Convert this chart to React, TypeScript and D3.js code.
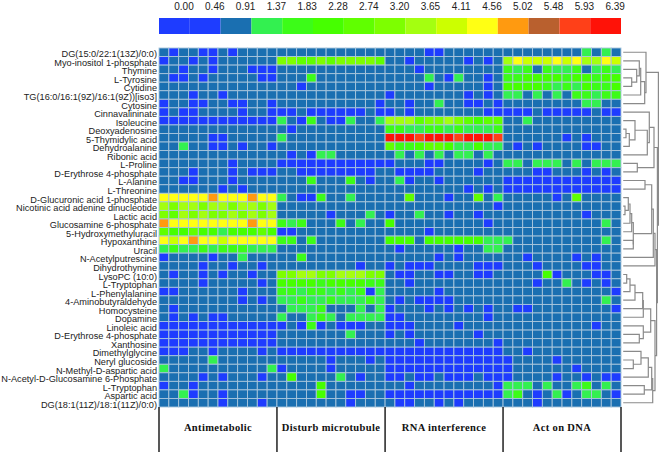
import * as d3 from "d3";

const legendTicks = [0.0, 0.46, 0.91, 1.37, 1.83, 2.28, 2.74, 3.2, 3.65, 4.11, 4.56, 5.02, 5.48, 5.93, 6.39];
const legendColors = [
  "#1e3cff", "#1e3dff", "#1a6fb1", "#33f050", "#3cfc18", "#46ff00", "#60ff00", "#7dff00",
  "#a4ff10", "#ccff00", "#ffff14", "#ff9a10", "#b9602e", "#ff4018", "#ff1208",
];

const metabolites = [
  "DG(15:0/22:1(13Z)/0:0)", "Myo-inositol 1-phosphate", "Thymine", "L-Tyrosine", "Cytidine",
  "TG(16:0/16:1(9Z)/16:1(9Z))[iso3]", "Cytosine", "Cinnavalininate", "Isoleucine", "Deoxyadenosine",
  "5-Thymidylic acid", "Dehydroalanine", "Ribonic acid", "L-Proline", "D-Erythrose 4-phosphate",
  "L-Alanine", "L-Threonine", "D-Glucuronic acid 1-phosphate", "Nicotinic acid adenine dinucleotide",
  "Lactic acid", "Glucosamine 6-phosphate", "5-Hydroxymethyluracil", "Hypoxanthine", "Uracil",
  "N-Acetylputrescine", "Dihydrothymine", "LysoPC (10:0)", "L-Tryptophan", "L-Phenylalanine",
  "4-Aminobutyraldehyde", "Homocysteine", "Dopamine", "Linoleic acid", "D-Erythrose 4-phosphate",
  "Xanthosine", "Dimethylglycine", "Neryl glucoside", "N-Methyl-D-aspartic acid",
  "N-Acetyl-D-Glucosamine 6-Phosphate", "L-Tryptophan", "Aspartic acid", "DG(18:1(11Z)/18:1(11Z)/0:0)",
];

const groupLabels = ["Antimetabolic", "Disturb microtubule", "RNA interference", "Act on DNA"];
const groupSizes = [12, 11, 12, 12];

// one hex digit per cell = index into legendTicks, split by treatment group
const heatRows = [
  "202200202222 22222222222 222200222222 222222223232",
  "022020222222 77667677776 220222220202 8a999a9a88a9",
  "220220222000 22222222222 222022222222 434243342343",
  "200202222200 22242222222 222232032202 445555455455",
  "222222222222 22022222222 222202222202 555543435445",
  "222022022222 22222222222 022222220202 332323244344",
  "022002200220 22222222220 220223220020 222222223322",
  "020022220220 00200000020 020222222200 000200000200",
  "000000000000 32042003223 888677876566 223222222222",
  "222222222222 20222222222 443344343334 222222222222",
  "222220022222 32222222222 eeedeeedeeed 222222020222",
  "223220020220 22222222222 644566533533 202022220022",
  "222222222222 20203322222 232323233232 222222222222",
  "222222202222 00000000000 022200222202 332333232333",
  "222022202000 22000000002 200002222022 222002220202",
  "220022202222 22242224202 230220222222 000000000000",
  "222222020222 22222222222 222222220202 000000000000",
  "aaaaabaaabaa 32004223222 226222022623 222220262222",
  "878878878878 22222222222 222222222220 222222222222",
  "768787787878 22222022232 022322022022 222222220222",
  "baaaaaaaabaa 43422242322 522222222202 222222222232",
  "655655355565 00222222222 222202222222 222222222222",
  "a9abaa9aaaaa 44242222222 555255555533 322222222232",
  "343343444333 22222222222 202222202233 222222222222",
  "022220223222 22422222222 222220202222 220222202022",
  "222202202202 22222222022 020002222000 222022220022",
  "202202022022 77887788877 200220022002 222250222002",
  "222202222202 55554555544 220222222222 222022320202",
  "002222220222 44344343403 222220222222 222222222220",
  "222222220202 33433433343 202000022222 222222222232",
  "202222222222 23334222323 022202020202 200222222220",
  "202020022222 32234323333 002222222202 222222222222",
  "000000000000 02040200022 000222202222 222222222022",
  "000000000000 22222223222 020222222022 222222222222",
  "000000000000 22222222222 222022222220 222222222222",
  "000220222202 00000000000 000000000000 220222222222",
  "222223222222 22222022202 000000000000 022220222222",
  "322222222223 02222022222 000000000000 022222202222",
  "222202022202 25222232022 002002000200 022220220200",
  "022022222222 22225222222 220222222220 333232234232",
  "223022022222 22225220022 000000000000 342023023320",
  "222222022202 22222220222 200220202222 222022222222",
];

// row dendrogram: [left, right, merge distance], a number is a row index
type Tree = number | [Tree, Tree, number];
const clusterTop: Tree = [0, [[[1, [2, [3, 4, 9.7], 14.7], 17.3], 5, 18.7], 6, 22.7], 24];
const clusterMid: Tree = [
  [7, [[8, [[9, 10, 4], 11, 7.3], 13], 12, 25.3], 27.3],
  [13, 14, 15.3],
  32,
];
const clusterMetabA: Tree = [
  [
    [[15, 16, 23], [[[[17, [18, 19, 3], 6.3], 20, 8], 21, 9.7], [22, 23, 11.3], 11.3], 29.7],
    24,
    31.3,
  ],
  25,
  33,
];
const clusterLow: Tree = [
  [
    [[[[[26, 27, 4.7], 28, 8], 29, 13], 30, 20.7], 31, 21.3],
    [32, [33, 34, 17.3], 21.3],
    28.7,
  ],
  [[[[35, [36, 37, 11.3], 19], 38, 26.3], [39, 40, 22.3], 29.7], 41, 30.7],
  33,
];
const dendroRoot: Tree = [clusterTop, [clusterMid, [clusterMetabA, clusterLow, 34.6], 35.4], 36.4];

const x = d3.scaleBand<number>(d3.range(47), [159, 621]);
const y = d3.scaleBand<number>(d3.range(metabolites.length), [48, 407]);
const color = d3.scaleOrdinal<number, string>(legendTicks, legendColors);
const legendX = d3.scaleBand<number>(legendTicks, [159, 621]);
const dendroX = d3.scaleLinear().domain([0, 38]).range([622, 660]);

const matrix = heatRows.map((r) => Array.from(r.replace(/ /g, ""), (c) => legendTicks[parseInt(c, 16)]));

const treeRoot = d3.hierarchy<Tree>(dendroRoot, (d) => (typeof d === "number" ? null : [d[0], d[1]]));
const treeY = new Map<d3.HierarchyNode<Tree>, number>();
treeRoot.eachAfter((n) => {
  if (typeof n.data === "number") treeY.set(n, y(n.data)! + y.bandwidth() / 2);
  else treeY.set(n, d3.mean(n.children!, (c) => treeY.get(c)!)!);
});
const nodeH = (n: d3.HierarchyNode<Tree>) => (typeof n.data === "number" ? 1.2 : (n.data[2] as number));

const boundaries = d3.cumsum(groupSizes);

export default function App() {
  return (
    <svg
      width={661}
      height={459}
      style={{ position: "absolute", left: 0, top: 0, display: "block", background: "#fff" }}
      fontFamily="'Liberation Sans', Arial, sans-serif"
    >
      {/* legend */}
      {legendTicks.map((t) => (
        <g key={t}>
          <rect x={legendX(t)} y={18} width={legendX.bandwidth()} height={16} fill={color(t)} />
          <text x={legendX(t)! + 25} y={9.5} fontSize={10} textAnchor="middle" fill="#222">
            {t.toFixed(2)}
          </text>
        </g>
      ))}

      {/* heatmap */}
      {matrix.map((row, r) =>
        row.map((v, c) => (
          <rect
            key={`${r}-${c}`}
            x={x(c)}
            y={y(r)}
            width={x.bandwidth()}
            height={y.bandwidth()}
            fill={color(v)}
            stroke="#a9c6dc"
            strokeWidth={0.9}
          />
        )),
      )}

      {/* row labels */}
      {metabolites.map((m, r) => (
        <text
          key={r}
          x={157}
          y={y(r)! + y.bandwidth() / 2 + 5}
          fontSize={9.2}
          textAnchor="end"
          fill="#222"
        >
          {m}
        </text>
      ))}

      {/* dendrogram */}
      <g fill="none" stroke="#8a8a8a" strokeWidth={1.2}>
        {treeRoot.descendants().filter((n) => n.children).map((n, i) => {
          const [a, b] = n.children!;
          const px = dendroX(nodeH(n));
          return (
            <path
              key={i}
              d={`M${dendroX(nodeH(a))},${treeY.get(a)}H${px}V${treeY.get(b)}H${dendroX(nodeH(b))}`}
            />
          );
        })}
      </g>

      {/* treatment groups */}
      {[0, ...boundaries].map((b) => {
        const bx = b < 47 ? x(b)! : x(46)! + x.bandwidth();
        return <line key={b} x1={bx} x2={bx} y1={407} y2={452} stroke="#111" strokeWidth={1.4} />;
      })}
      {groupLabels.map((g, i) => {
        const start = i === 0 ? 0 : boundaries[i - 1];
        const end = boundaries[i];
        const cx = (x(start)! + x(end - 1)! + x.bandwidth()) / 2;
        return (
          <text
            key={g}
            x={cx}
            y={431}
            fontSize={10.5}
            fontWeight="bold"
            letterSpacing={0.35}
            textAnchor="middle"
            fontFamily="'Liberation Serif', 'Times New Roman', serif"
            fill="#111"
          >
            {g}
          </text>
        );
      })}
    </svg>
  );
}
